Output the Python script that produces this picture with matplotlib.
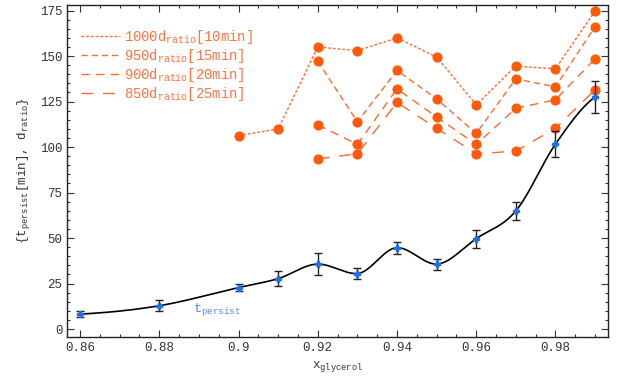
import numpy as np
import matplotlib
matplotlib.use("Agg")
import matplotlib.pyplot as plt
from matplotlib.ticker import MultipleLocator, FixedLocator

plt.rcParams['font.family'] = ['Liberation Mono', 'DejaVu Sans']
plt.rcParams['mathtext.fontset'] = 'custom'
plt.rcParams['mathtext.rm'] = 'Liberation Mono'
plt.rcParams['mathtext.it'] = 'Liberation Mono'

# ---- data ----
x_persist = [0.86, 0.88, 0.90, 0.91, 0.92, 0.93, 0.94, 0.95, 0.96, 0.97, 0.98, 0.99]
t_persist = [8.2, 12.8, 22.8, 27.7, 35.7, 30.5, 44.7, 35.7, 49.7, 64.9, 101.6, 127.5]
t_err = [1.5, 3.0, 2.0, 4.0, 6.0, 3.0, 3.3, 3.0, 5.0, 5.0, 7.0, 9.0]

x_1000 = [0.90, 0.91, 0.92, 0.93, 0.94, 0.95, 0.96, 0.97, 0.98, 0.99]
d_1000 = [106.3, 110.0, 155.0, 153.0, 160.0, 149.5, 123.2, 144.5, 143.0, 174.8]
x_950 = [0.92, 0.93, 0.94, 0.95, 0.96, 0.97, 0.98, 0.99]
d_950 = [147.2, 113.9, 142.1, 126.5, 107.5, 137.5, 133.1, 166.2]
x_900 = [0.92, 0.93, 0.94, 0.95, 0.96, 0.97, 0.98, 0.99]
d_900 = [112.2, 101.5, 132.0, 116.5, 101.5, 121.3, 126.0, 148.5]
x_850 = [0.92, 0.93, 0.94, 0.95, 0.96, 0.97, 0.98, 0.99]
d_850 = [93.5, 96.3, 124.5, 110.3, 96.3, 97.8, 110.3, 131.5]

labels = [r"1000d$_{\mathrm{ratio}}$[10min]", r"950d$_{\mathrm{ratio}}$[15min]",
          r"900d$_{\mathrm{ratio}}$[20min]", r"850d$_{\mathrm{ratio}}$[25min]"]
x_ticks = [0.86, 0.88, 0.90, 0.92, 0.94, 0.96, 0.98]
x_ticklabels = ["0.86", "0.88", "0.9", "0.92", "0.94", "0.96", "0.98"]
y_ticks = [0, 25, 50, 75, 100, 125, 150, 175]


def smooth_curve(x, y, n=60):
    """Piecewise cubic Hermite through the points; softened tangents at extrema."""
    x = np.asarray(x, float); y = np.asarray(y, float)
    m = len(x)
    d = np.zeros(m)
    sec = np.diff(y) / np.diff(x)
    for i in range(m):
        if i == 0:
            d[i] = sec[0] * 0.5
        elif i == m - 1:
            d[i] = sec[-1] * 0.6
        else:
            j = [i - 1, i, i + 1]
            p = np.polyfit(x[j], y[j], 2)
            g = np.polyval(np.polyder(p), x[i])
            if sec[i - 1] * sec[i] < 0:
                g *= 0.25
            d[i] = g
    xs_all, ys_all = [], []
    for i in range(m - 1):
        h = x[i + 1] - x[i]
        t = np.linspace(0, 1, n)
        h00 = 2 * t**3 - 3 * t**2 + 1
        h10 = t**3 - 2 * t**2 + t
        h01 = -2 * t**3 + 3 * t**2
        h11 = t**3 - t**2
        xs_all.append(x[i] + t * h)
        ys_all.append(h00 * y[i] + h10 * h * d[i] + h01 * y[i + 1] + h11 * h * d[i + 1])
    return np.concatenate(xs_all), np.concatenate(ys_all)


fig = plt.figure(figsize=(6.28, 3.83), dpi=100)
ax = fig.add_axes([0.107, 0.12, 0.861, 0.868])

orange_line = '#FF6A2E'
orange_dot = '#FF5A0A'
styles = [(0, (2.0, 1.4)), (0, (4.5, 2.8)), (0, (6.0, 4.5)), (0, (8.5, 7.0))]
series = [(x_1000, d_1000), (x_950, d_950), (x_900, d_900), (x_850, d_850)]
handles = []
for (xs_, ys_), ls, lab in zip(series, styles, labels):
    ax.plot(xs_, ys_, linestyle='none', marker='o', ms=6.3, color=orange_dot, zorder=3)
    h, = ax.plot(xs_, ys_, linestyle=ls, lw=1.0, color=orange_line, zorder=2, label=lab)
    handles.append(h)

sx, sy = smooth_curve(x_persist, t_persist)
ax.plot(sx, sy, color='black', lw=1.2, zorder=4)
ax.errorbar(x_persist, t_persist, yerr=t_err, fmt='none', ecolor='#222222',
            elinewidth=1.0, capsize=3, capthick=1.0, zorder=5)
ax.plot(x_persist, t_persist, linestyle='none', marker='P', ms=4,
        color='#1F6FE8', zorder=6)

ax.text(0.8885, 10.5, r"t$_{\mathrm{persist}}$", color='#4A8CF0', fontsize=9.5,
        va='center', ha='left')

leg = ax.legend(handles=handles, loc='upper left', bbox_to_anchor=(0.01, 0.955),
                frameon=False, fontsize=10, handlelength=2.8, handletextpad=0.3,
                labelspacing=0.08, borderaxespad=0.2)
for t in leg.get_texts():
    t.set_color('#FF7440')

ax.set_xlim(0.85675, 0.99325)
ax.set_ylim(-4.4, 178.3)
ax.xaxis.set_major_locator(FixedLocator(x_ticks))
ax.set_xticklabels(x_ticklabels)
ax.xaxis.set_minor_locator(MultipleLocator(0.005))
ax.yaxis.set_major_locator(FixedLocator(y_ticks))
ax.yaxis.set_minor_locator(MultipleLocator(5))
ax.tick_params(which='both', direction='in', top=True, right=True,
               labelsize=9, colors='#333333', width=0.8)
ax.tick_params(which='major', length=5)
ax.tick_params(which='minor', length=2.5)
for t in ax.get_xticklabels() + ax.get_yticklabels():
    t.set_color('#333333')
for s in ax.spines.values():
    s.set_color('#222222')
    s.set_linewidth(1.0)

ax.set_xlabel(r"x$_{\mathrm{glycerol}}$", fontsize=9, color='#333333', labelpad=4)
ax.set_ylabel(r"{t$_{\mathrm{persist}}$[min], d$_{\mathrm{ratio}}$}", fontsize=9,
              color='#333333', labelpad=6)

fig.savefig('out.png', dpi=100)
